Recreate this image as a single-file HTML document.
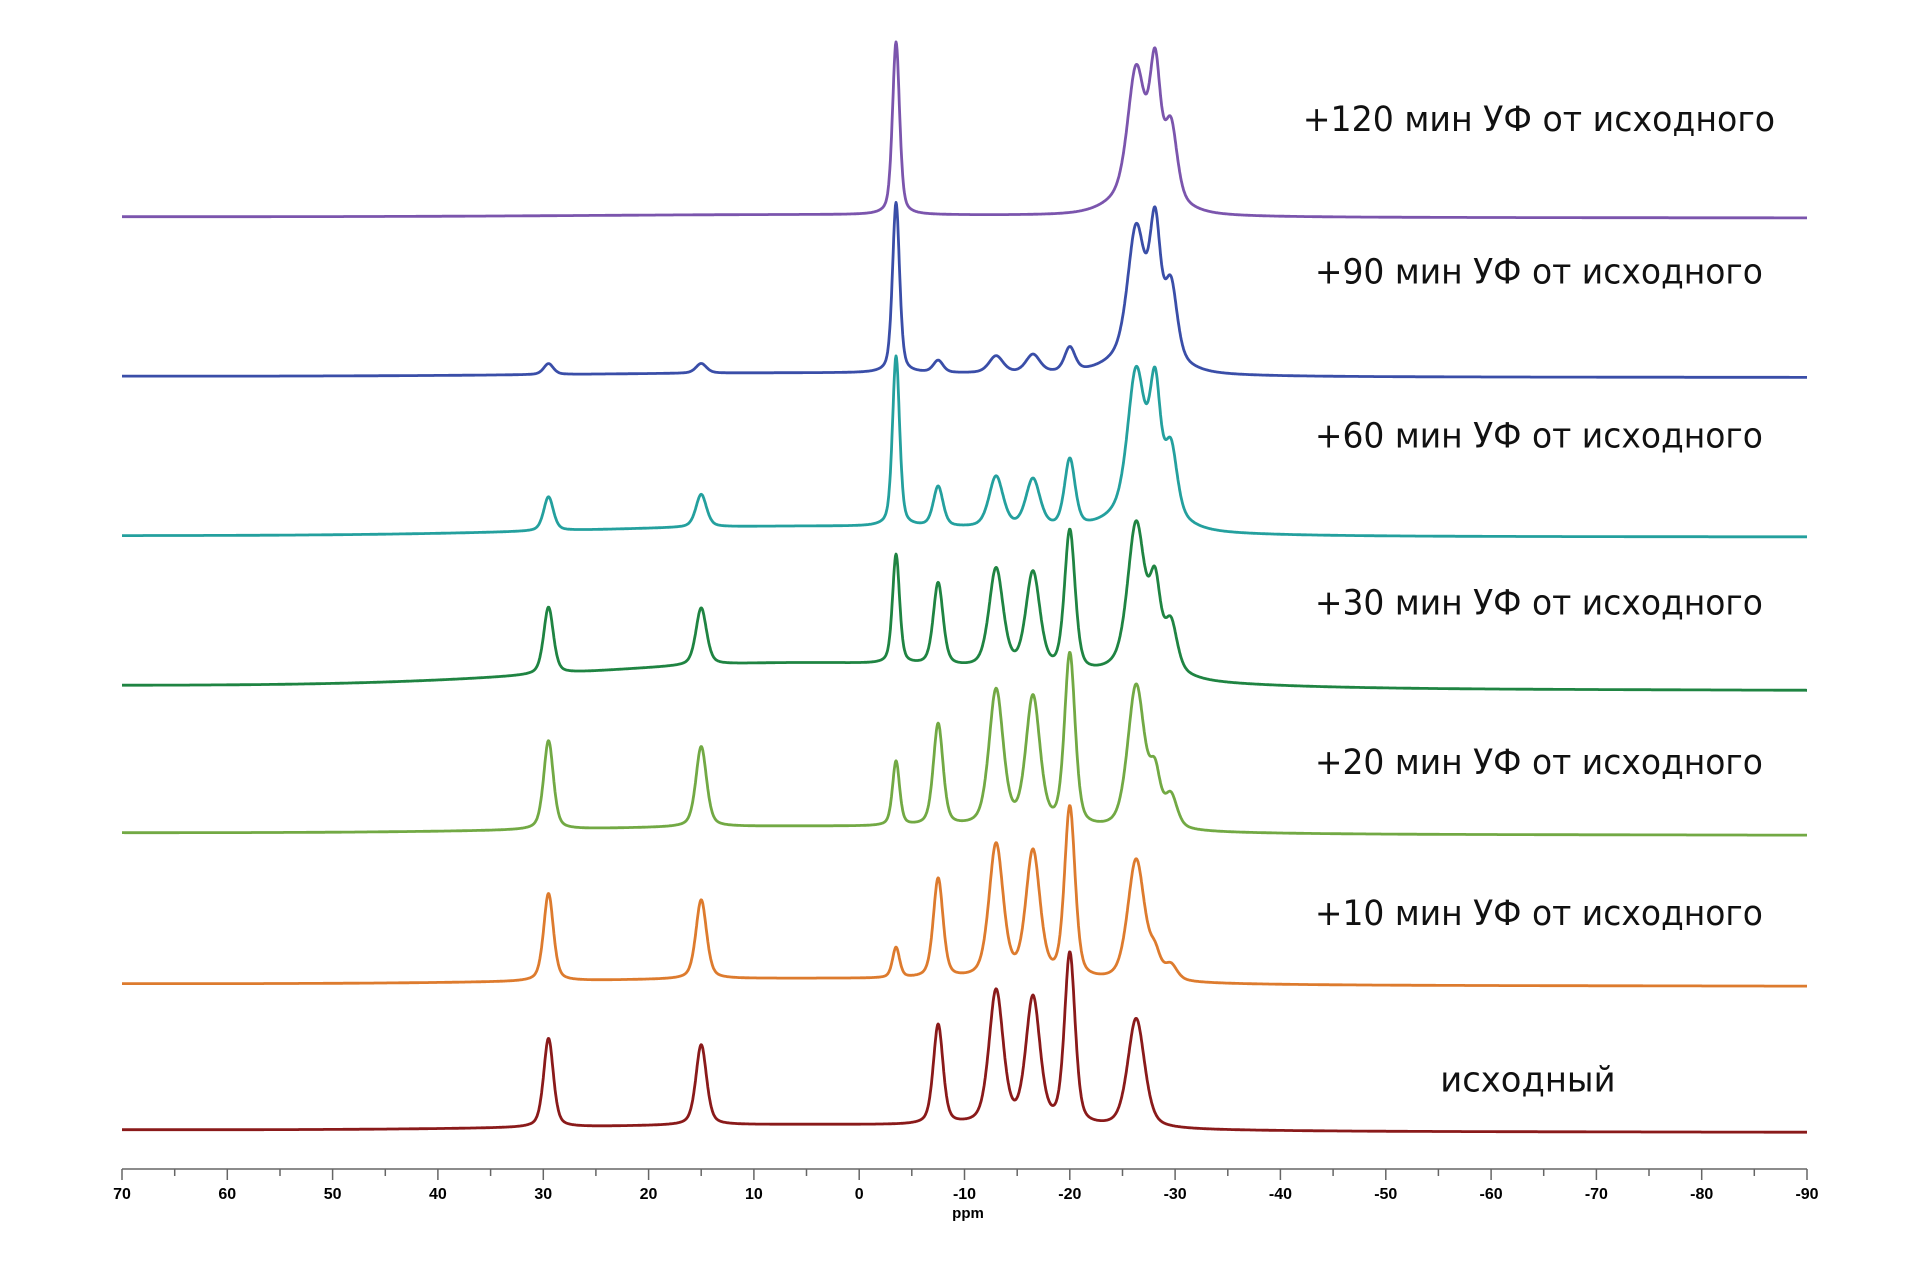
<!DOCTYPE html>
<html><head><meta charset="utf-8"><style>
html,body{margin:0;padding:0;background:#fff;}
svg{display:block;}
</style></head><body>
<svg id="chart" width="1909" height="1265" viewBox="0 0 1909 1265" xmlns="http://www.w3.org/2000/svg">
<g id="series"></g>
<g id="axis"></g>
<g id="labels"></g>
</svg>
<script>
const seriesNames = ["+120 мин УФ от исходного","+90 мин УФ от исходного","+60 мин УФ от исходного","+30 мин УФ от исходного","+20 мин УФ от исходного","+10 мин УФ от исходного","исходный"];
const seriesColors = ["#7b55ad","#3a4ea8","#24a09e","#1f8442","#72a944","#dd7b2e","#8a1a1a"];
const peakPpm = [29.5, 15, -3.5, -7.5, -13, -16.5, -20, -26.3, -28.1, -29.6, -27];
const peakWidth = [0.55, 0.6, 0.4, 0.55, 0.8, 0.8, 0.6, 0.95, 0.6, 0.7, 3];
const heights120 = [0,0,142,0,0,0,0,100,100,60,20];
const heights90 = [9,8,140,10,14,15,20,100,100,60,20];
const heights60 = [28,27,140,33,42,40,56,110,95,55,22];
const heights30 = [55,47,90,68,82,80,116,115,62,38,12];
const heights20 = [73,66,53,84,112,106,142,118,40,26,0];
const heights10 = [72,65,25,82,110,104,141,100,18,12,0];
const heights0 = [73,66,0,82,110,104,141,90,0,0,0];
const seriesHeights = [heights120,heights90,heights60,heights30,heights20,heights10,heights0];
const baseLeft = [178,309,440,563,684,808,928];
const baseRight = [179,310,441,567,686,810,930];
const humpAmp = [2,3,8,20,6,5,5];
const labelY = [97,222,357,494,625,749,886];
const labelX0 = [1070,1080,1080,1080,1080,1080,1183];
const labelX1 = [1458,1448,1448,1448,1448,1448,1327];
const tickValues = [70,60,50,40,30,20,10,0,-10,-20,-30,-40,-50,-60,-70,-80,-90];

const S = 1909/1568;
const X0 = 122, X1 = 1807;
function xScale(p){ return X0 + (70 - p) * (X1 - X0) / 160; }
function ySc(d){ return d * S; }
const NS = "http://www.w3.org/2000/svg";
const gS = document.getElementById('series');
for (let s = 0; s < seriesNames.length; s++) {
  const h = seriesHeights[s];
  let d = "";
  for (let i = 0; i <= 3000; i++) {
    const p = 70 - 160 * i / 3000;
    const t = i / 3000;
    let y = baseLeft[s] + (baseRight[s] - baseLeft[s]) * t;
    y -= humpAmp[s] * Math.exp(-Math.pow((p - 5) / 30, 2));
    for (let k = 0; k < peakPpm.length; k++) {
      const w = peakWidth[k], dd = p - peakPpm[k];
      const lor = w * w / (w * w + dd * dd);
      const gau = Math.exp(-0.693 * dd * dd / (w * w));
      y -= h[k] * (0.45 * lor + 0.55 * gau);
    }
    d += (i ? "L" : "M") + xScale(p).toFixed(1) + " " + ySc(y).toFixed(1);
  }
  const path = document.createElementNS(NS, 'path');
  path.setAttribute('d', d);
  path.setAttribute('fill', 'none');
  path.setAttribute('stroke', seriesColors[s]);
  path.setAttribute('stroke-width', '2.8');
  path.setAttribute('stroke-linejoin', 'round');
  
  
  gS.appendChild(path);
}
const gA = document.getElementById('axis');
const axY = 1169;
let ad = "M" + X0 + " " + axY + "H" + X1;
for (let v = 70; v >= -90; v -= 5) {
  const x = xScale(v);
  ad += "M" + x.toFixed(1) + " " + axY + "V" + (axY + (v % 10 === 0 ? 11 : 7));
}
const ax = document.createElementNS(NS, 'path');
ax.setAttribute('d', ad);
ax.setAttribute('stroke', '#666');
ax.setAttribute('stroke-width', '1.5');
ax.setAttribute('fill', 'none');


gA.appendChild(ax);
for (const v of tickValues) {
  const t = document.createElementNS(NS, 'text');
  t.setAttribute('x', xScale(v));
  t.setAttribute('y', 1199);
  t.setAttribute('text-anchor', 'middle');
  t.setAttribute('font-family', 'Liberation Sans, sans-serif');
  t.setAttribute('font-weight', 'bold');
  t.setAttribute('font-size', '16');
  t.textContent = v;
  
  
  gA.appendChild(t);
}
const pt = document.createElementNS(NS, 'text');
pt.setAttribute('x', 968); pt.setAttribute('y', 1218);
pt.setAttribute('text-anchor', 'middle');
pt.setAttribute('font-family', 'Liberation Sans, sans-serif');
pt.setAttribute('font-weight', 'bold');
pt.setAttribute('font-size', '15');
pt.textContent = 'ppm';


gA.appendChild(pt);
const gL = document.getElementById('labels');
for (let s = 0; s < seriesNames.length; s++) {
  const t = document.createElementNS(NS, 'text');
  t.setAttribute('x', ySc(labelX0[s]));
  t.setAttribute('y', ySc(labelY[s]) + 13);
  t.setAttribute('textLength', ySc(labelX1[s] - labelX0[s]));
  t.setAttribute('lengthAdjust', 'spacingAndGlyphs');
  t.setAttribute('font-family', 'DejaVu Sans, sans-serif');
  t.setAttribute('font-size', '35');
  t.setAttribute('fill', '#111');
  t.textContent = seriesNames[s];
  
  
  gL.appendChild(t);
}
</script>
</body></html>
